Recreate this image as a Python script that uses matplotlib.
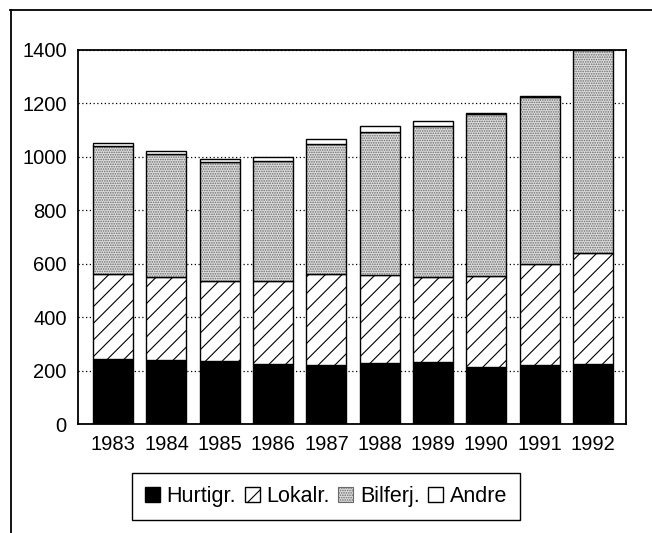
import numpy as np
import matplotlib.pyplot as plt
from matplotlib.patches import Patch
from matplotlib.lines import Line2D

plt.rcParams['font.family'] = ['Liberation Sans', 'DejaVu Sans']
plt.rcParams['hatch.linewidth'] = 0.8

# data
years = ['1983', '1984', '1985', '1986', '1987', '1988', '1989', '1990', '1991', '1992']
hurtigr = np.array([243, 238, 235, 224, 222, 227, 232, 214, 219, 224])
lokalr = np.array([317, 312, 301, 312, 339, 329, 316, 339, 380, 416])
bilferj = np.array([480, 459, 442, 446, 486, 537, 566, 606, 625, 760])
andre = np.array([10, 11, 14, 16, 18, 21, 19, 3, 3, 0])
labels = ['Hurtigr.', 'Lokalr.', 'Bilferj.', 'Andre']

fig = plt.figure(figsize=(6.52, 5.33), dpi=100)
ax = fig.add_axes([0.1196, 0.2045, 0.8405, 0.7025])

x = np.arange(len(years))
w = 0.75

# gridlines behind bars
ax.set_axisbelow(True)
ax.yaxis.grid(True, linestyle=(0, (1, 2)), color='black', linewidth=0.9)

ax.bar(x, hurtigr, w, color='black', edgecolor='black', linewidth=1)
b1 = hurtigr
ax.bar(x, lokalr, w, bottom=b1, color='white', edgecolor='black', hatch='//', linewidth=1)
b2 = b1 + lokalr
# stippled fill, then a black outline on top
ax.bar(x, bilferj, w, bottom=b2, color='#dedede', edgecolor='#6a6a6a', hatch='.......', linewidth=0)
ax.bar(x, bilferj, w, bottom=b2, fill=False, edgecolor='black', linewidth=1)
b3 = b2 + bilferj
ax.bar(x, andre, w, bottom=b3, color='white', edgecolor='black', linewidth=1)

ax.set_xlim(-0.66, 9.62)
ax.set_ylim(0, 1400)
ax.set_yticks(np.arange(0, 1401, 200))
ax.set_xticks(x)
ax.set_xticklabels(years)
ax.tick_params(axis='both', length=0, labelsize=14.5)
ax.tick_params(axis='x', pad=8)
ax.tick_params(axis='y', pad=8)
for s in ax.spines.values():
    s.set_linewidth(1.3)

handles = [
    Patch(facecolor='black', edgecolor='black'),
    Patch(facecolor='white', edgecolor='black', hatch='//'),
    Patch(facecolor='#dedede', edgecolor='#6a6a6a', hatch='.......', linewidth=0.8),
    Patch(facecolor='white', edgecolor='black'),
]
leg = fig.legend(handles, labels, loc='center', bbox_to_anchor=(0.5, 0.0685), ncol=4,
                 fontsize=15.5, frameon=True, fancybox=False, framealpha=1,
                 edgecolor='black', handlelength=0.7, handleheight=0.7,
                 handletextpad=0.3, columnspacing=0.4, borderpad=0.6, borderaxespad=0)
leg.get_frame().set_linewidth(1.0)

# outer frame (only top and left edges are visible in the scan)
fig.add_artist(Line2D([10 / 652, 1], [1 - 9.5 / 533, 1 - 9.5 / 533], color='black', linewidth=1.3))
fig.add_artist(Line2D([10.5 / 652, 10.5 / 652], [0, 1 - 9.5 / 533], color='black', linewidth=1.3))

fig.savefig('out.png', dpi=100)
